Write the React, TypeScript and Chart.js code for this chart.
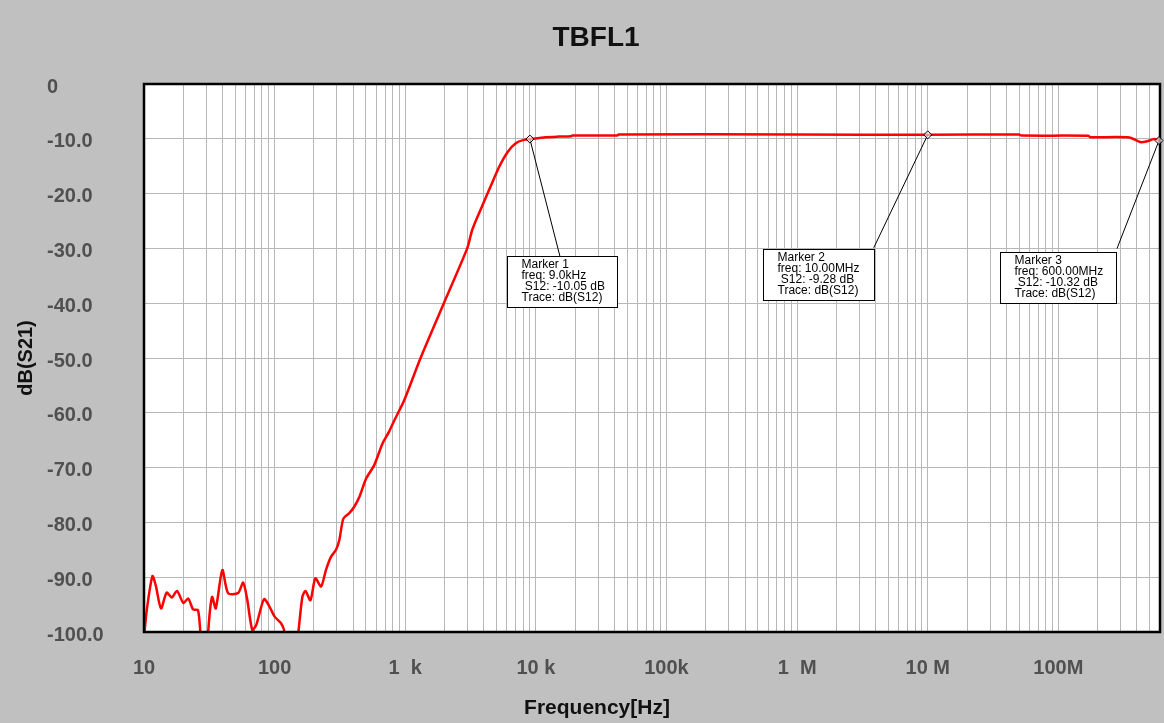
import React, { useEffect, useRef } from "react";
import { Chart, registerables } from "chart.js";

Chart.register(...registerables);

// ---- data ----
const freqHz: number[] = [
  10, 10.5, 11.6, 12.3, 13.5, 14.9, 16.3, 17.9, 20.0, 21.8, 23.8, 25.9, 27.1, 28.5,
  30.5, 31.0, 33.2, 35.4, 39.8, 44.0, 52.5, 57.4, 61.5, 67.4, 72.4, 82.9, 91.5, 100,
  112, 119, 125, 145, 152, 163, 172, 188, 205, 227, 247, 270, 295, 313, 336, 373,
  408, 446, 502, 580, 670, 754, 828, 982, 1310, 1975, 2980, 3260, 3860, 4500, 5240,
  6100, 7020, 8100, 9000, 11900, 15000, 18500, 19000, 42000, 43000, 1e6, 1e7, 5e7,
  5.2e7, 1.7e8, 1.75e8, 3.5e8, 4.23e8, 4.7e8, 5.41e8, 6e8,
];
const s21dB: number[] = [
  -101, -96, -89.8, -91.5, -95.7, -92.8, -93.7, -92.5, -94.7, -93.9, -95.9, -96.0, -100.5, -106,
  -106, -100, -93.6, -95.7, -88.7, -92.9, -92.9, -91.0, -93.9, -99.6, -98.7, -94.0, -95.4, -97.2,
  -98.4, -99.9, -103, -103, -100, -93.6, -92.5, -94.2, -90.2, -91.7, -88.7, -86.3, -85.0, -83.2, -79.3, -78.3,
  -77.1, -75.3, -72.0, -69.5, -65.6, -63.4, -61.3, -57.7, -50, -40, -30, -26.6, -22.4, -18.7, -15.1,
  -12.35, -10.8, -10.2, -10.05, -9.7, -9.6, -9.55, -9.4, -9.4, -9.2, -9.2, -9.28, -9.2,
  -9.4, -9.45, -9.7, -9.75, -10.6, -10.5, -10.05, -10.32,
];

const xTickValues: number[] = [10, 100, 1e3, 1e4, 1e5, 1e6, 1e7, 1e8];
const xTickLabels: string[] = ["10", "100", "1  k", "10 k", "100k", "1  M", "10 M", "100M"];
const xMin = 10;
const xMax = 6e8;
const yMin = -100;
const yMax = 0;
const yStep = 10;

const markerNames: string[] = ["Marker 1", "Marker 2", "Marker 3"];
const markerFreq: number[] = [9000, 1e7, 6e8];
const markerDb: number[] = [-10.05, -9.28, -10.32];
const markerFreqText: string[] = ["9.0kHz", "10.00MHz", "600.00MHz"];
const markerValText: string[] = ["-10.05 dB", "-9.28 dB", "-10.32 dB"];
const markerTrace: string[] = ["dB(S12)", "dB(S12)", "dB(S12)"];

const chartTitle = "TBFL1";
const xTitle = "Frequency[Hz]";
const yTitle = "dB(S21)";

// ---- layout (pixel offsets relative to each marker point) ----
const markerLayout = [
  { boxDx: -23, boxDy: 117, boxW: 110, boxH: 51, lineDx: 30, lineDy: 117 },
  { boxDx: -165, boxDy: 114, boxW: 111, boxH: 51, lineDx: -54, lineDy: 113 },
  { boxDx: -159, boxDy: 111, boxW: 116, boxH: 51, lineDx: -42, lineDy: 108 },
];

const FONT = "'Liberation Sans', Arial, sans-serif";

const decorPlugin = {
  id: "decor",
  beforeDraw(chart: any) {
    const { ctx, chartArea } = chart;
    ctx.save();
    ctx.fillStyle = "#c0c0c0";
    ctx.fillRect(0, 0, chart.width, chart.height);
    ctx.fillStyle = "#ffffff";
    ctx.fillRect(chartArea.left, chartArea.top, chartArea.right - chartArea.left, chartArea.bottom - chartArea.top);
    ctx.restore();
  },
  afterDraw(chart: any) {
    const { ctx, chartArea } = chart;
    const xs = chart.scales.x;
    const ys = chart.scales.y;
    ctx.save();
    // plot border
    ctx.strokeStyle = "#000000";
    ctx.lineWidth = 2.5;
    ctx.strokeRect(chartArea.left, chartArea.top, chartArea.right - chartArea.left, chartArea.bottom - chartArea.top);

    // markers
    for (let i = 0; i < markerFreq.length; i++) {
      const px = Math.min(xs.getPixelForValue(markerFreq[i]), chartArea.right - 1);
      const py = ys.getPixelForValue(markerDb[i]);
      const L = markerLayout[i];
      ctx.strokeStyle = "#000000";
      ctx.lineWidth = 1;
      ctx.beginPath();
      ctx.moveTo(px, py);
      ctx.lineTo(px + L.lineDx, py + L.lineDy);
      ctx.stroke();
      // diamond
      ctx.beginPath();
      ctx.moveTo(px, py - 4);
      ctx.lineTo(px + 4, py);
      ctx.lineTo(px, py + 4);
      ctx.lineTo(px - 4, py);
      ctx.closePath();
      ctx.fillStyle = "rgba(255,255,255,0.6)";
      ctx.fill();
      ctx.stroke();
      // box
      const bx = Math.round(px + L.boxDx) + 0.5;
      const by = Math.round(py + L.boxDy) + 0.5;
      ctx.fillStyle = "#ffffff";
      ctx.fillRect(bx, by, L.boxW, L.boxH);
      ctx.strokeStyle = "#000000";
      ctx.lineWidth = 1;
      ctx.strokeRect(bx, by, L.boxW, L.boxH);
      ctx.fillStyle = "#000000";
      ctx.font = `12px ${FONT}`;
      ctx.textAlign = "left";
      ctx.textBaseline = "alphabetic";
      const lines = [
        markerNames[i],
        `freq: ${markerFreqText[i]}`,
        ` S12: ${markerValText[i]}`,
        `Trace: ${markerTrace[i]}`,
      ];
      lines.forEach((t, k) => ctx.fillText(t, bx + 14, by + 11.5 + k * 11));
    }

    // titles
    ctx.fillStyle = "#111111";
    ctx.textAlign = "center";
    ctx.textBaseline = "middle";
    ctx.font = `bold 28px ${FONT}`;
    ctx.fillText(chartTitle, 596, 38);
    ctx.font = `bold 21px ${FONT}`;
    ctx.fillText(xTitle, 597, 708);
    ctx.translate(26, 358);
    ctx.rotate(-Math.PI / 2);
    ctx.font = `bold 20px ${FONT}`;
    ctx.fillText(yTitle, 0, 0);
    ctx.restore();
  },
};

export default function App() {
  const ref = useRef<HTMLCanvasElement | null>(null);
  useEffect(() => {
    document.body.style.margin = "0";
    if (!ref.current) return;
    const points = freqHz.map((f, i) => ({ x: f, y: s21dB[i] }));
    const chart = new Chart(ref.current, {
      type: "line",
      data: {
        datasets: [
          {
            data: points,
            borderColor: "#ff0000",
            borderWidth: 2.5,
            pointRadius: 0,
            tension: 0.25,
            fill: false,
          },
        ],
      },
      options: {
        animation: false,
        responsive: true,
        maintainAspectRatio: false,
        parsing: false as any,
        layout: { padding: { left: 47, top: 84, right: 4, bottom: 0 } },
        plugins: { legend: { display: false }, tooltip: { enabled: false }, title: { display: false } },
        scales: {
          x: {
            type: "logarithmic",
            min: xMin,
            max: xMax,
            border: { display: false },
            grid: { color: "#b8b8b8", lineWidth: 1, drawTicks: false },
            afterBuildTicks: (scale: any) => {
              const t: any[] = [];
              for (let d = 10; d <= xMax; d *= 10) {
                for (let m = 1; m <= 9; m++) {
                  const v = Math.round(d * m);
                  if (v >= xMin && v <= xMax) t.push({ value: v });
                }
              }
              scale.ticks = t;
            },
            afterFit: (scale: any) => {
              scale.height = 91;
              scale.paddingRight = 0;
              scale.paddingLeft = 0;
            },
            ticks: {
              autoSkip: false,
              maxRotation: 0,
              minRotation: 0,
              padding: 24,
              color: "#505050",
              font: { family: FONT, size: 20, weight: "bold" },
              callback: (v: any) => {
                const idx = xTickValues.findIndex((t) => Math.abs(t - Number(v)) / t < 1e-6);
                return idx >= 0 ? xTickLabels[idx] : "";
              },
            },
          },
          y: {
            type: "linear",
            min: yMin,
            max: yMax,
            border: { display: false },
            grid: { color: "#b8b8b8", lineWidth: 1, drawTicks: false },
            afterFit: (scale: any) => {
              scale.width = 97;
              scale.paddingTop = 0;
              scale.paddingBottom = 0;
            },
            ticks: {
              stepSize: yStep,
              crossAlign: "far",
              labelOffset: 3,
              color: "#505050",
              font: { family: FONT, size: 20, weight: "bold" },
              callback: (v: any) => (Number(v) === 0 ? "0" : Number(v).toFixed(1)),
            },
          },
        },
      },
      plugins: [decorPlugin],
    });
    return () => chart.destroy();
  }, []);
  return (
    <div style={{ width: 1164, height: 723, position: "relative" }}>
      <canvas ref={ref} />
    </div>
  );
}
